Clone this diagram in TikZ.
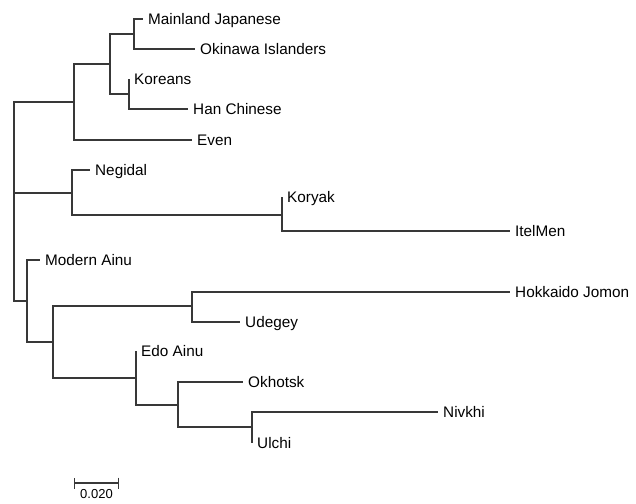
\documentclass[tikz,border=0pt]{standalone}
\usepackage{fontspec}
\setmainfont{Liberation Sans}
\usetikzlibrary{arrows.meta}

\begin{document}
\begin{tikzpicture}[x=1pt, y=-1pt,
    branch/.style={line width=1.2pt, draw=black!78},
    taxon/.style={anchor=base west, inner sep=0pt, xshift=5pt, yshift=-5.5pt, font=\fontsize{15.3}{18}\selectfont}]
  \useasboundingbox (0,0) rectangle (636,503);
  % inner nodes
  \coordinate (root) at (14,193);
  \coordinate (nE) at (74,102);
  \coordinate (nJK) at (110,64);
  \coordinate (nJO) at (134,34);
  \coordinate (nKH) at (129,94);
  \coordinate (nNK) at (72,193);
  \coordinate (nKI) at (282,215);
  \coordinate (nAin) at (27,301);
  \coordinate (nC) at (53,342);
  \coordinate (nHU) at (192,306);
  \coordinate (nEO) at (136,378);
  \coordinate (nON) at (178,405);
  \coordinate (nNU) at (252,427);
  % tips
  \coordinate (tMJ) at (143,19);
  \coordinate (tOI) at (195,49);
  \coordinate (tKO) at (129,79);
  \coordinate (tHC) at (188,109);
  \coordinate (tEV) at (192,140);
  \coordinate (tNE) at (90,170);
  \coordinate (tKY) at (282,197);
  \coordinate (tIM) at (510,231);
  \coordinate (tMA) at (40,260);
  \coordinate (tHJ) at (510,292);
  \coordinate (tUD) at (240,322);
  \coordinate (tEA) at (136,351);
  \coordinate (tOK) at (243,382);
  \coordinate (tNI) at (438,412);
  \coordinate (tUL) at (252,443);
  % branches
  \draw[branch] (root) |- (nE);
  \draw[branch] (root) |- (nNK);
  \draw[branch] (root) |- (nAin);
  \draw[branch] (nE) |- (nJK);
  \draw[branch] (nE) |- (tEV);
  \draw[branch] (nJK) |- (nJO);
  \draw[branch] (nJK) |- (nKH);
  \draw[branch] (nJO) |- (tMJ);
  \draw[branch] (nJO) |- (tOI);
  \draw[branch] (nKH) |- (tKO);
  \draw[branch] (nKH) |- (tHC);
  \draw[branch] (nNK) |- (tNE);
  \draw[branch] (nNK) |- (nKI);
  \draw[branch] (nKI) |- (tKY);
  \draw[branch] (nKI) |- (tIM);
  \draw[branch] (nAin) |- (tMA);
  \draw[branch] (nAin) |- (nC);
  \draw[branch] (nC) |- (nHU);
  \draw[branch] (nC) |- (nEO);
  \draw[branch] (nHU) |- (tHJ);
  \draw[branch] (nHU) |- (tUD);
  \draw[branch] (nEO) |- (tEA);
  \draw[branch] (nEO) |- (nON);
  \draw[branch] (nON) |- (tOK);
  \draw[branch] (nON) |- (nNU);
  \draw[branch] (nNU) |- (tNI);
  \draw[branch] (nNU) |- (tUL);
  % labels
  \node[taxon] (lMJ) at (tMJ) {Mainland Japanese};
  \node[taxon] (lOI) at (tOI) {Okinawa Islanders};
  \node[taxon] (lKO) at (tKO) {Koreans};
  \node[taxon] (lHC) at (tHC) {Han Chinese};
  \node[taxon] (lEV) at (tEV) {Even};
  \node[taxon] (lNE) at (tNE) {Negidal};
  \node[taxon] (lKY) at (tKY) {Koryak};
  \node[taxon] (lIM) at (tIM) {ItelMen};
  \node[taxon] (lMA) at (tMA) {Modern Ainu};
  \node[taxon] (lHJ) at (tHJ) {Hokkaido Jomon};
  \node[taxon] (lUD) at (tUD) {Udegey};
  \node[taxon] (lEA) at (tEA) {Edo Ainu};
  \node[taxon] (lOK) at (tOK) {Okhotsk};
  \node[taxon] (lNI) at (tNI) {Nivkhi};
  \node[taxon] (lUL) at (tUL) {Ulchi};
  % scale bar
  \coordinate (sbL) at (74,483);
  \coordinate (sbR) at (119,483);
  \draw[branch, {Bar[width=11pt]}-{Bar[width=11pt]}] (sbL) -- (sbR)
    node[midway, below=6pt, inner sep=0pt, font=\fontsize{13}{14}\selectfont] (sbT) {0.020};
\end{tikzpicture}
\end{document}
